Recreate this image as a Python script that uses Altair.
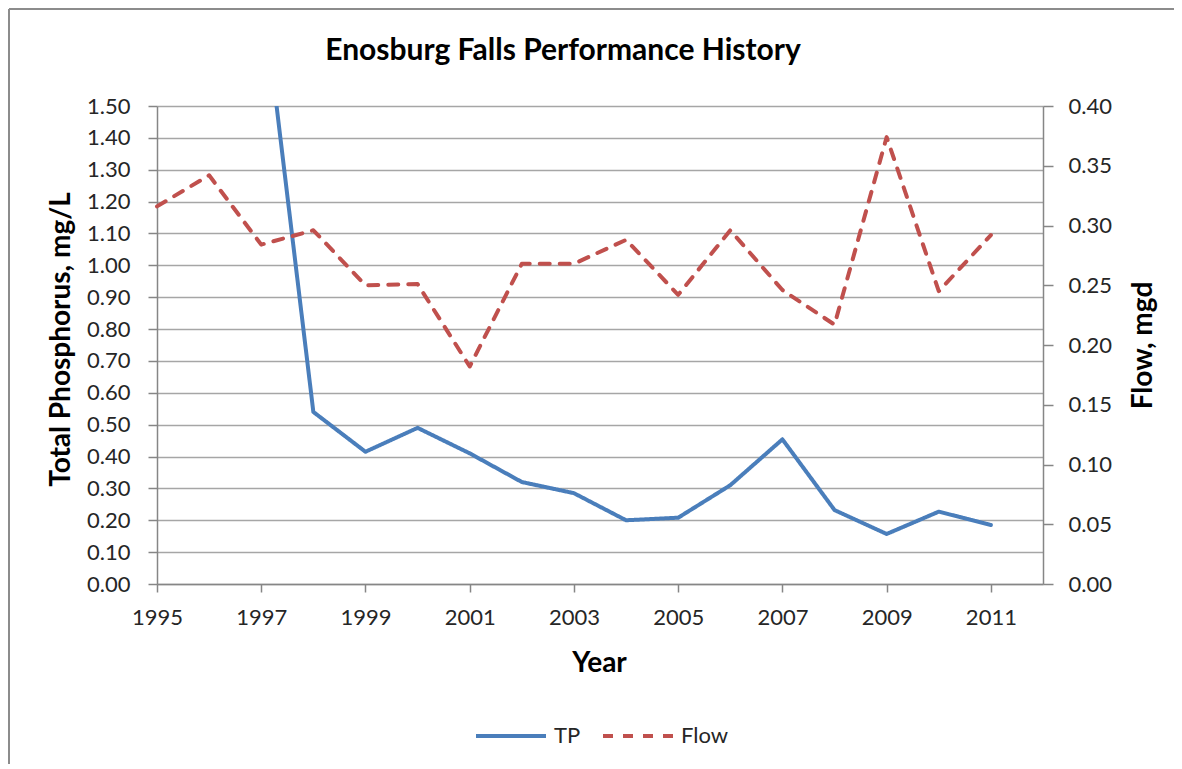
import altair as alt
import pandas as pd

# ---- data ----
tp_years = [1997, 1998, 1999, 2000, 2001, 2002, 2003, 2004, 2005, 2006, 2007, 2008, 2009, 2010, 2011]
tp_values = [1.90, 0.54, 0.415, 0.49, 0.41, 0.32, 0.285, 0.20, 0.208, 0.31, 0.454, 0.232, 0.157, 0.227, 0.185]

flow_years = [1995, 1996, 1997, 1998, 1999, 2000, 2001, 2002, 2003, 2004, 2005, 2006, 2007, 2008, 2009, 2010, 2011]
flow_values = [0.316, 0.342, 0.284, 0.296, 0.250, 0.251, 0.182, 0.268, 0.268, 0.288, 0.242, 0.296, 0.246, 0.217, 0.374, 0.245, 0.292]

series_names = ["TP", "Flow"]
series_colors = ["#4a7ebb", "#c0504d"]
series_dash = [[1, 0], [10, 10]]

x_ticks = [1995, 1997, 1999, 2001, 2003, 2005, 2007, 2009, 2011]
left_ticks = [round(i * 0.1, 2) for i in range(16)]
right_ticks = [round(i * 0.05, 2) for i in range(9)]

title_text = "Enosburg Falls Performance History"

tp_df = pd.DataFrame({"Year": tp_years, "value": tp_values, "series": "TP"})
flow_df = pd.DataFrame({"Year": flow_years, "value": flow_values, "series": "Flow"})

FONT = "Lato"
W, H = 886, 478

x_enc = alt.X(
    "Year:Q",
    scale=alt.Scale(domain=[1995, 2012], nice=False, zero=False),
    axis=alt.Axis(
        values=x_ticks, format="d", title="Year", grid=False,
        titleX=442, titleY=79, titleAlign="center", titleBaseline="middle",
        tickSize=8, labelPadding=15, labelFlush=False, labelOverlap=False,
    ),
)

legend_def = alt.Legend(
    title=None, orient="none", legendX=317, legendY=593, direction="horizontal",
    symbolType="stroke", symbolSize=4900, symbolStrokeWidth=4,
    labelFontSize=22, labelFont=FONT, labelColor="#262626",
    labelOffset=6, columnPadding=14,
)

color_enc = alt.Color(
    "series:N",
    scale=alt.Scale(domain=series_names, range=series_colors),
    legend=legend_def,
)
dash_enc = alt.StrokeDash(
    "series:N",
    scale=alt.Scale(domain=series_names, range=series_dash),
    legend=legend_def,
)

tp_line = alt.Chart(tp_df).mark_line(strokeWidth=4, clip=True, strokeCap="round", strokeJoin="round").encode(
    x=x_enc,
    y=alt.Y(
        "value:Q",
        scale=alt.Scale(domain=[0, 1.5], nice=False),
        axis=alt.Axis(
            orient="left", values=left_ticks, format=".2f",
            title="Total Phosphorus, mg/L", titleAngle=270,
            titleX=-96, titleY=233, titleAlign="center", titleBaseline="middle",
            grid=True, tickSize=9, labelPadding=18,
        ),
    ),
    color=color_enc,
    strokeDash=dash_enc,
)

flow_line = alt.Chart(flow_df).mark_line(strokeWidth=4, strokeCap="round", strokeJoin="round").encode(
    x=x_enc,
    y=alt.Y(
        "value:Q",
        scale=alt.Scale(domain=[0, 0.4], nice=False),
        axis=alt.Axis(
            orient="right", values=right_ticks, format=".2f",
            title="Flow, mgd", titleAngle=270,
            titleX=100, titleY=239, titleAlign="center", titleBaseline="middle",
            grid=False, tickSize=10, labelPadding=15,
        ),
    ),
    color=color_enc,
    strokeDash=dash_enc,
)

frame_df = pd.DataFrame({"k": [0]})
frame_left = alt.Chart(frame_df).mark_rule(color="#8c8c8c", strokeWidth=2).encode(
    x=alt.value(-148), y=alt.value(-97), y2=alt.value(720)
)
frame_top = alt.Chart(frame_df).mark_rule(color="#8c8c8c", strokeWidth=2).encode(
    x=alt.value(-148), x2=alt.value(1100), y=alt.value(-97)
)

title = alt.Chart(pd.DataFrame({"t": [title_text]})).mark_text(
    font=FONT, fontSize=30, fontWeight="bold", color="#000000",
    align="center", baseline="alphabetic"
).encode(
    x=alt.value(406), y=alt.value(-46), text="t:N"
)

chart = alt.layer(tp_line, flow_line, frame_left, frame_top, title).resolve_scale(
    y="independent"
).properties(
    width=W, height=H,
    autosize=alt.AutoSizeParams(type="none"),
    padding={"left": 149, "top": 98, "right": 131, "bottom": 180},
).configure(
    background="white"
).configure_view(
    strokeWidth=0
).configure_axis(
    labelFont=FONT, labelFontSize=22, labelColor="#262626",
    titleFont=FONT, titleFontSize=28, titleFontWeight="bold", titleColor="#000000",
    domainColor="#868686", domainWidth=1.5, tickColor="#868686", tickWidth=1.5,
    gridColor="#a6a6a6", gridWidth=1.5,
)

chart.save("out.html", embed_options={"renderer": "svg", "actions": False})
